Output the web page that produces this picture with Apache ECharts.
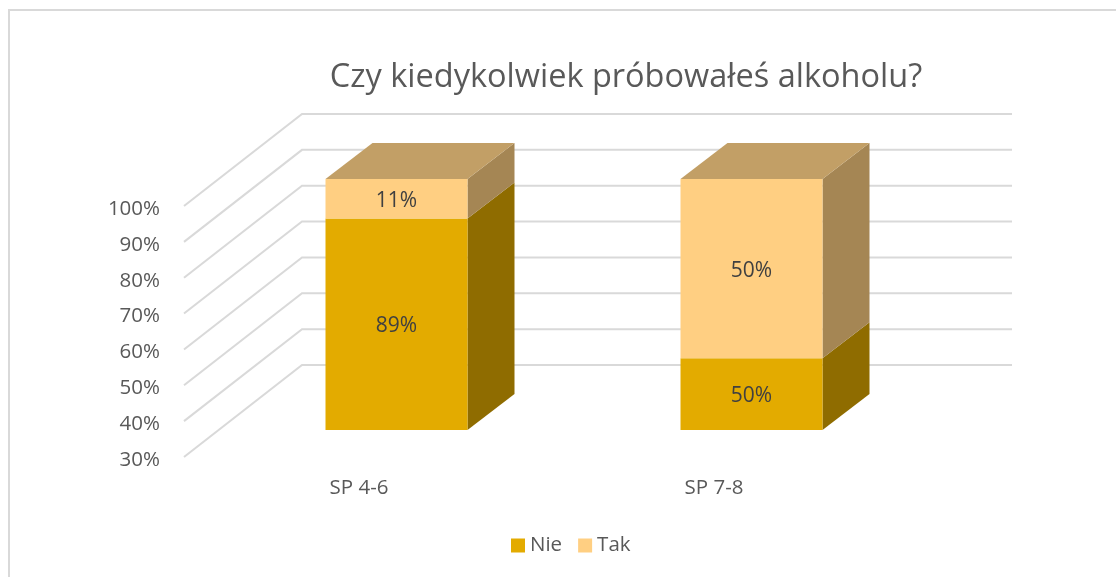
<!DOCTYPE html>
<html>
<head>
<meta charset="utf-8">
<style>
  html, body { margin: 0; padding: 0; background: #fff; }
  #main { width: 1116px; height: 577px; }
</style>
<script src="https://cdn.jsdelivr.net/npm/echarts@6/dist/echarts.min.js"></script>
</head>
<body>
<div id="main"></div>
<script>
var categories = ['SP 4-6', 'SP 7-8'];
var nie = [89, 50];
var tak = [11, 50];
var labelsNie = ['89%', '50%'];
var labelsTak = ['11%', '50%'];
var ticks = [30, 40, 50, 60, 70, 80, 90, 100];
var axisMin = 30;

var font = '"Open Sans", sans-serif';

// oblique projection of the 3D box
var wallDx = 118, wallDy = 92;
var barShiftX = 35, barShiftY = 27;
var depthDx = 47, depthDy = 36;

function poly(points, color) {
  return { type: 'polygon', shape: { points: points }, style: { fill: color }, silent: true };
}

function segment(base, colors, labels, withTop) {
  return function (params, api) {
    var i = api.value(0);
    // the stack is cut off at the axis minimum, bars start from there
    var from = base ? base[i] : axisMin;
    var to = base ? base[i] + api.value(1) : api.value(1);
    var low = api.coord([i, from]);
    var high = api.coord([i, to]);
    var w = api.size([1, 0])[0] * 0.4;
    var x0 = low[0] + barShiftX - w / 2, x1 = x0 + w;
    var y0 = low[1] - barShiftY, y1 = high[1] - barShiftY;
    var kids = [
      poly([[x1, y0], [x1, y1], [x1 + depthDx, y1 - depthDy], [x1 + depthDx, y0 - depthDy]], colors.side),
      poly([[x0, y0], [x1, y0], [x1, y1], [x0, y1]], colors.front)
    ];
    if (withTop) {
      kids.push(poly([[x0, y1], [x1, y1], [x1 + depthDx, y1 - depthDy], [x0 + depthDx, y1 - depthDy]], colors.top));
    }
    kids.push({
      type: 'text',
      style: {
        x: (x0 + x1) / 2, y: (y0 + y1) / 2 + 2, text: labels[i],
        fill: '#404040', font: '21px ' + font, align: 'center', verticalAlign: 'middle'
      },
      silent: true
    });
    return { type: 'group', children: kids };
  };
}

function wallLine(params, api) {
  var p = api.coord([0, api.value(1)]);
  var c = params.coordSys;
  var a = [c.x, p[1]];
  var b = [c.x + wallDx, p[1] - wallDy];
  var e = [c.x + c.width + wallDx, p[1] - wallDy];
  return {
    type: 'polyline',
    shape: { points: [a, b, e] },
    style: { fill: null, stroke: '#d9d9d9', lineWidth: 2 },
    silent: true
  };
}

var chart = echarts.init(document.getElementById('main'));
chart.setOption({
  animation: false,
  backgroundColor: '#ffffff',
  title: {
    text: 'Czy kiedykolwiek próbowałeś alkoholu?',
    left: 621,
    top: 56,
    textAlign: 'center',
    textStyle: { fontFamily: font, fontSize: 32.5, fontWeight: 'normal', color: '#595959' }
  },
  legend: {
    data: ['Nie', 'Tak'],
    left: 511,
    top: 535,
    padding: 0,
    icon: 'rect',
    itemWidth: 14,
    itemHeight: 14,
    itemGap: 16,
    textStyle: { fontFamily: font, fontSize: 20.5, color: '#595959' },
    selectedMode: false
  },
  grid: { left: 184, top: 206, width: 710, height: 251 },
  xAxis: {
    type: 'category',
    data: categories,
    axisLine: { show: false },
    axisTick: { show: false },
    axisLabel: { margin: 21, padding: [0, 5, 0, 0], fontFamily: font, fontSize: 20.5, color: '#595959' }
  },
  yAxis: {
    type: 'value',
    min: 30,
    max: 100,
    interval: 10,
    axisLine: { show: false },
    axisTick: { show: false },
    splitLine: { show: false },
    axisLabel: { margin: 24, verticalAlign: 'top', lineHeight: 6, formatter: '{value}%', fontFamily: font, fontSize: 20.5, color: '#595959' }
  },
  graphic: [{
    type: 'polyline',
    shape: { points: [[9, 577], [9, 10], [1116, 10]] },
    style: { fill: null, stroke: '#d9d9d9', lineWidth: 2 },
    silent: true
  }],
  series: [
    {
      type: 'custom',
      name: 'wall',
      renderItem: wallLine,
      data: ticks.map(function (t) { return [0, t]; }),
      z: 1
    },
    {
      type: 'custom',
      name: 'Nie',
      itemStyle: { color: '#e3ab00' },
      renderItem: segment(null, { front: '#e3ab00', side: '#8f6c00', top: '#8f6c00' }, labelsNie, false),
      data: nie.map(function (v, i) { return [i, v]; }),
      z: 2
    },
    {
      type: 'custom',
      name: 'Tak',
      itemStyle: { color: '#ffcf82' },
      renderItem: segment(nie, { front: '#ffcf82', side: '#a58654', top: '#c29f66' }, labelsTak, true),
      data: tak.map(function (v, i) { return [i, v]; }),
      z: 3
    }
  ]
});
</script>
</body>
</html>
